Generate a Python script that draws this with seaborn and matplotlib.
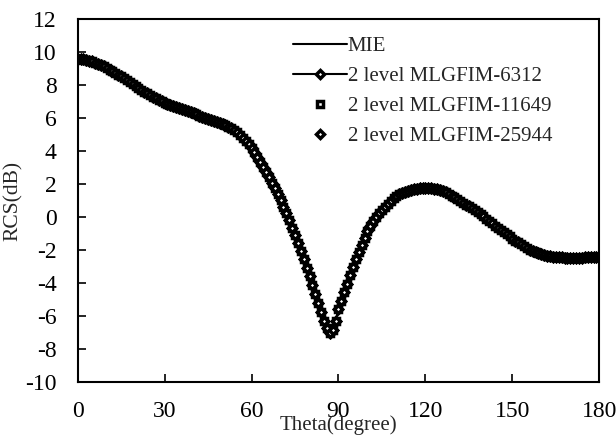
import numpy as np
import pandas as pd
import matplotlib
matplotlib.use("Agg")
import matplotlib.pyplot as plt
import seaborn as sns

# scattering angle, 1 degree steps
theta = np.arange(0, 181, 1)

# Mie reference solution (dB)
rcs_mie = [
    9.60, 9.59, 9.57, 9.54, 9.50,
    9.45, 9.38, 9.31, 9.23, 9.14,
    9.05, 8.95, 8.85, 8.75, 8.65,
    8.55, 8.43, 8.31, 8.19, 8.07,
    7.95, 7.84, 7.73, 7.62, 7.51,
    7.40, 7.31, 7.22, 7.13, 7.04,
    6.95, 6.88, 6.81, 6.74, 6.67,
    6.60, 6.54, 6.48, 6.42, 6.36,
    6.30, 6.23, 6.16, 6.09, 6.02,
    5.95, 5.89, 5.83, 5.77, 5.71,
    5.65, 5.57, 5.48, 5.38, 5.27,
    5.15, 5.00, 4.83, 4.64, 4.43,
    4.20, 3.94, 3.66, 3.37, 3.07,
    2.75, 2.42, 2.08, 1.74, 1.40,
    1.05, 0.64, 0.22, -0.20, -0.64,
    -1.10, -1.58, -2.07, -2.57, -3.08,
    -3.60, -4.14, -4.68, -5.22, -5.76,
    -6.30, -6.75, -7.05, -6.85, -6.30,
    -5.60, -5.08, -4.56, -4.04, -3.52,
    -3.00, -2.55, -2.10, -1.67, -1.25,
    -0.85, -0.53, -0.23, 0.03, 0.26,
    0.45, 0.64, 0.82, 0.99, 1.15,
    1.30, 1.39, 1.47, 1.54, 1.60,
    1.65, 1.69, 1.72, 1.75, 1.77,
    1.78, 1.78, 1.76, 1.73, 1.70,
    1.65, 1.58, 1.50, 1.41, 1.31,
    1.20, 1.09, 0.98, 0.87, 0.76,
    0.65, 0.53, 0.41, 0.29, 0.17,
    0.05, -0.09, -0.23, -0.37, -0.51,
    -0.65, -0.78, -0.91, -1.04, -1.17,
    -1.30, -1.42, -1.54, -1.66, -1.78,
    -1.90, -1.98, -2.06, -2.13, -2.19,
    -2.25, -2.30, -2.34, -2.37, -2.40,
    -2.42, -2.44, -2.45, -2.46, -2.47,
    -2.48, -2.48, -2.47, -2.47, -2.46,
    -2.45, -2.44, -2.44, -2.43, -2.43,
    -2.42,
]

# MLGFIM results lie on top of the Mie curve in the picture
rcs_6312 = list(rcs_mie)
rcs_11649 = list(rcs_mie)
rcs_25944 = list(rcs_mie)

labels = ["MIE", "2 level MLGFIM-6312", "2 level MLGFIM-11649", "2 level MLGFIM-25944"]

sns.set_theme(style="ticks")
plt.rcParams["font.family"] = ["Liberation Serif", "DejaVu Serif"]
plt.rcParams["axes.unicode_minus"] = False

fig = plt.figure(figsize=(6.16, 4.4), dpi=100)
ax = fig.add_axes([0.126, 0.132, 0.847, 0.824])

df = pd.DataFrame({"theta": theta, "mie": rcs_mie, "a": rcs_6312,
                   "b": rcs_11649, "c": rcs_25944})

mk = dict(markerfacecolor="white", markeredgecolor="black", markeredgewidth=2.5)

sns.lineplot(data=df, x="theta", y="mie", color="black", lw=1.5, ax=ax, label=labels[0])
sns.lineplot(data=df, x="theta", y="a", color="black", lw=1.5, marker="D",
             markersize=4.5, ax=ax, label=labels[1], **mk)
sns.lineplot(data=df, x="theta", y="b", color="black", linestyle="none", marker="s",
             markersize=4.6, ax=ax, label=labels[2], **mk)
sns.lineplot(data=df, x="theta", y="c", color="black", linestyle="none", marker="D",
             markersize=4.5, ax=ax, label=labels[3], **mk)

ax.set_xlim(0, 180)
ax.set_ylim(-10, 12)
ax.set_xticks(range(0, 181, 30))
ax.set_yticks(range(-10, 13, 2))
ax.tick_params(direction="in", length=6, width=1.2, labelsize=17, colors="black")
ax.tick_params(axis="x", pad=14)
ax.tick_params(axis="y", pad=15)
for s in ax.spines.values():
    s.set_linewidth(1.5)
    s.set_color("black")

ax.set_xlabel("Theta(degree)", fontsize=15, labelpad=-5)
ax.set_ylabel("RCS(dB)", fontsize=15.5, labelpad=2)

leg = ax.legend(loc="upper left", bbox_to_anchor=(0.396, 0.975), frameon=False,
                fontsize=15, handlelength=2.6, handletextpad=0.05, labelspacing=0.5,
                borderaxespad=0)

plt.savefig("out.png", dpi=100)
